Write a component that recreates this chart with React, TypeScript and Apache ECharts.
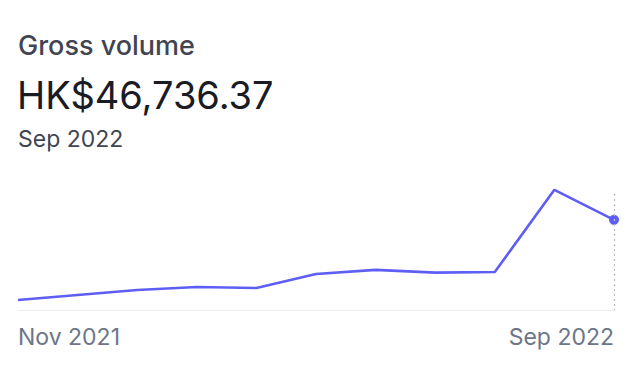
import React, { useEffect, useRef } from "react";
import * as echarts from "echarts";

const months = ["Nov 2021", "Dec 2021", "Jan 2022", "Feb 2022", "Mar 2022", "Apr 2022", "May 2022", "Jun 2022", "Jul 2022", "Aug 2022", "Sep 2022"];
const grossVolume = [5200, 7800, 10400, 11900, 11400, 18700, 20800, 19400, 19700, 62300, 46736.37];
const titleText = "Gross volume";
const amountText = "HK$46,736.37";
const periodText = "Sep 2022";
const yMax = 70000;
const markerTop = 60200;

const FONT = "Inter, 'Noto Sans', sans-serif";

export default function App() {
  const ref = useRef<HTMLDivElement>(null);
  useEffect(() => {
    const chart = echarts.init(ref.current!, undefined, { renderer: "svg" });
    const last = grossVolume.length - 1;
    chart.setOption({
      animation: false,
      textStyle: { fontFamily: FONT },
      grid: { left: 18, right: 30, top: 175, bottom: 70 },
      graphic: [
        { type: "text", left: 18, top: 32, style: { text: titleText, font: `500 27px ${FONT}`, fill: "#414552" } },
        { type: "text", left: 17, top: 76, style: { text: amountText, font: `400 38px ${FONT}`, fill: "#1a1b25" } },
        { type: "text", left: 18, top: 127, style: { text: periodText, font: `400 23px ${FONT}`, fill: "#414552" } },
      ],
      xAxis: {
        type: "category",
        data: months,
        boundaryGap: false,
        axisLine: { show: true, lineStyle: { color: "#ebeef1", width: 1 } },
        axisTick: { show: false },
        axisLabel: {
          interval: (i: number) => i === 0 || i === last,
          color: "#6c7688",
          fontSize: 23,
          margin: 15,
          alignMinLabel: "left",
          alignMaxLabel: "right",
          fontFamily: FONT,
        },
        splitLine: { show: false },
      },
      yAxis: {
        type: "value",
        min: 0,
        max: yMax,
        show: false,
        splitLine: { show: false },
      },
      series: [
        {
          type: "line",
          data: grossVolume.map((v, i) =>
            i === last ? { value: v, symbol: "circle", symbolSize: 10 } : { value: v, symbol: "none" }
          ),
          showSymbol: true,
          lineStyle: { color: "#5e5ef5", width: 2.6 },
          itemStyle: { color: "#5e5ef5" },
          markLine: {
            symbol: "none",
            silent: true,
            label: { show: false },
            lineStyle: { color: "#b6bac3", type: [2, 3], width: 1.2 },
            data: [[{ coord: [last, markerTop] }, { coord: [last, 0] }]],
          },
          z: 3,
        },
      ],
    });
    return () => chart.dispose();
  }, []);
  return <div ref={ref} style={{ position: "fixed", left: 0, top: 0, width: 644, height: 380, background: "#fff" }} />;
}
